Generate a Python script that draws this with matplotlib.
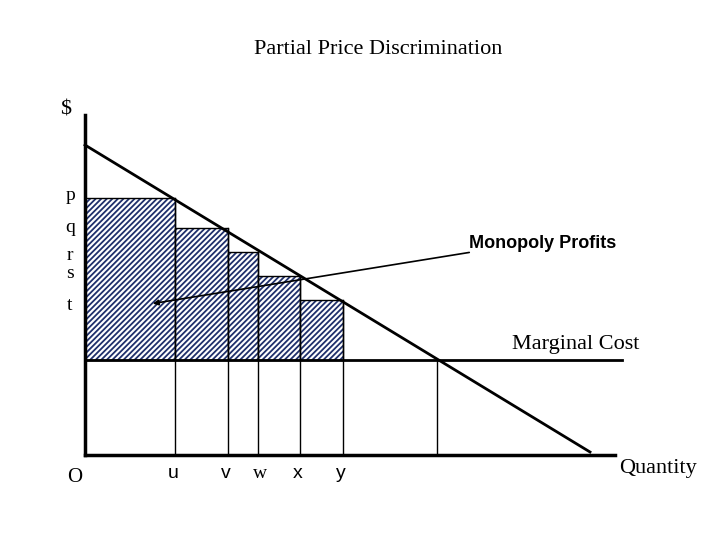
import matplotlib
matplotlib.use("Agg")
import matplotlib.pyplot as plt
from matplotlib.patches import Rectangle

# step edges (pixel-space quantities) and prices
step_x = [85, 175, 228, 258, 300, 343]
step_y = [198, 228, 252, 276, 300]
price_labels = ["p", "q", "r", "s", "t"]
qty_labels = ["u", "v", "w", "x", "y"]
mc_y = 360
mc_q = 437

plt.rcParams['hatch.linewidth'] = 1.3
fig = plt.figure(figsize=(7.2, 5.4), dpi=100)
ax = fig.add_axes([0, 0, 1, 1])
ax.set_xlim(0, 720); ax.set_ylim(540, 0); ax.axis('off')

for i in range(5):
    w = step_x[i+1]-step_x[i]; h = mc_y-step_y[i]
    ax.add_patch(Rectangle((step_x[i], step_y[i]), w, h,
                           facecolor='white', edgecolor='#1f2f6b', hatch='//////', lw=0))
    ax.add_patch(Rectangle((step_x[i], step_y[i]), w, h, fill=False, edgecolor='black', lw=1))
    ax.plot([step_x[i+1], step_x[i+1]], [step_y[i], 455], color='black', lw=1)
ax.plot([mc_q, mc_q], [mc_y, 455], color='black', lw=1)

ax.plot([85, 85], [115, 455], color='black', lw=2.5)
ax.plot([85, 615], [455, 455], color='black', lw=2.5)
ax.plot([85, 622], [mc_y, mc_y], color='black', lw=2)
ax.plot([85, 590], [145, 452], color='black', lw=2)

ax.annotate("", xy=(150, 304), xytext=(472, 252),
            arrowprops=dict(arrowstyle='-|>', color='black', lw=1.2, mutation_scale=8))
ax.text(469, 244, "Monopoly Profits", fontsize=13, fontweight='bold', family='Liberation Sans', va='center')
ax.text(512, 344, "Marginal Cost", fontsize=16, family='Liberation Serif', va='center')
ax.text(619, 469, "Quantity", fontsize=16, family='Liberation Serif', va='center')
ax.text(67, 477, "O", fontsize=15, family='Liberation Serif', va='center')
ax.text(60, 110, "$", fontsize=16, family='Liberation Serif', va='center')
ax.text(378, 50, "Partial Price Discrimination", fontsize=16, family='Liberation Serif', ha='center', va='center')

plab_y = [196, 228, 255, 273, 305]
for lab, y in zip(price_labels, plab_y):
    ax.text(70, y, lab, fontsize=14, family='Liberation Serif', ha='center', va='center')
qfam = ['Liberation Sans', 'Liberation Sans', 'Liberation Serif', 'Liberation Sans', 'Liberation Sans']
for lab, x, f in zip(qty_labels, step_x[1:], qfam):
    ax.text(x-2 if lab != 'w' else x+2, 473, lab, fontsize=14, family=f, ha='center', va='center')

fig.savefig("out.png", dpi=100)
